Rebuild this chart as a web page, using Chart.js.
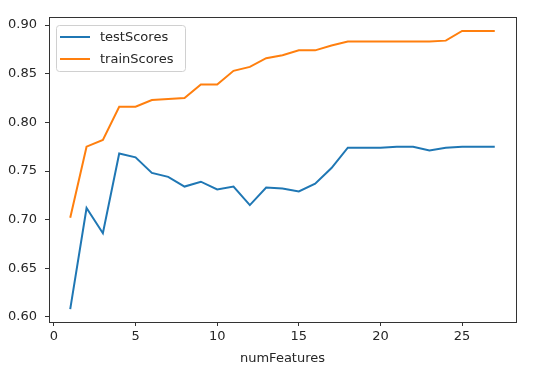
<!DOCTYPE html>
<html>
<head>
<meta charset="utf-8">
<script src="https://cdn.jsdelivr.net/npm/chart.js@4"></script>
<style>
  html, body { margin: 0; padding: 0; background: #fff; }
  #wrap { width: 547px; height: 370px; }
</style>
</head>
<body>
<div id="wrap"><canvas id="myChart" width="547" height="370"></canvas></div>
<script>
// number of features used, and scores
const numFeatures = [1, 2, 3, 4, 5, 6, 7, 8, 9, 10, 11, 12, 13, 14, 15, 16, 17, 18, 19, 20, 21, 22, 23, 24, 25, 26, 27];
const testScores = [0.608, 0.712, 0.686, 0.768, 0.764, 0.748, 0.744, 0.734, 0.739, 0.731, 0.734, 0.715, 0.733, 0.732, 0.729, 0.737, 0.753, 0.774, 0.774, 0.774, 0.775, 0.775, 0.771, 0.774, 0.775, 0.775, 0.775];
const trainScores = [0.702, 0.775, 0.782, 0.816, 0.816, 0.823, 0.824, 0.825, 0.839, 0.839, 0.853, 0.857, 0.866, 0.869, 0.874, 0.874, 0.879, 0.883, 0.883, 0.883, 0.883, 0.883, 0.883, 0.884, 0.894, 0.894, 0.894];
const xTicks = [0, 5, 10, 15, 20, 25];
const yTicks = [0.60, 0.65, 0.70, 0.75, 0.80, 0.85, 0.90];

const FONT = "'DejaVu Sans', sans-serif";
const INK = '#262626';

function toPoints(vals) {
    return vals.map((v, i) => ({ x: numFeatures[i], y: v }));
}

// box around the plot like matplotlib spines
const framePlugin = {
    id: 'frame',
    afterDraw(chart) {
        const a = chart.chartArea;
        const c = chart.ctx;
        c.save();
        c.strokeStyle = '#333';
        c.lineWidth = 1;
        c.strokeRect(Math.round(a.left) + 0.5, Math.round(a.top) + 0.5,
            Math.round(a.right - a.left), Math.round(a.bottom - a.top));
        c.restore();
    }
};

// legend drawn inside the axes, upper left
const innerLegend = {
    id: 'innerLegend',
    afterDraw(chart) {
        const c = chart.ctx;
        const a = chart.chartArea;
        const x0 = a.left + 7, y0 = a.top + 8;
        const w = 129, h = 46;
        c.save();
        c.fillStyle = 'rgba(255,255,255,0.8)';
        c.strokeStyle = '#d0d0d0';
        c.lineWidth = 1;
        c.beginPath();
        c.roundRect(x0 + 0.5, y0 + 0.5, w, h, 3);
        c.fill();
        c.stroke();
        c.font = '13px ' + FONT;
        c.textBaseline = 'middle';
        chart.data.datasets.forEach((ds, i) => {
            const yy = y0 + 12 + i * 22;
            c.strokeStyle = ds.borderColor;
            c.lineWidth = 2;
            c.beginPath();
            c.moveTo(x0 + 4, yy);
            c.lineTo(x0 + 34, yy);
            c.stroke();
            c.fillStyle = INK;
            c.fillText(ds.label, x0 + 44, yy + 1);
        });
        c.restore();
    }
};

const ctx = document.getElementById('myChart').getContext('2d');
const myChart = new Chart(ctx, {
    type: 'line',
    data: {
        datasets: [{
            label: 'testScores',
            data: toPoints(testScores),
            borderColor: '#1f77b4',
            borderWidth: 2,
            pointRadius: 0,
            fill: false,
            tension: 0
        }, {
            label: 'trainScores',
            data: toPoints(trainScores),
            borderColor: '#ff7f0e',
            borderWidth: 2,
            pointRadius: 0,
            fill: false,
            tension: 0
        }]
    },
    options: {
        responsive: false,
        animation: false,
        layout: { padding: { left: 0, right: 31, top: 17, bottom: 0 } },
        plugins: {
            legend: { display: false },
            tooltip: { enabled: false }
        },
        scales: {
            x: {
                type: 'linear',
                min: -0.3,
                max: 28.3,
                afterBuildTicks(s) { s.ticks = xTicks.map(v => ({ value: v })); },
                afterFit(s) { s.height = 48; },
                grid: { drawOnChartArea: false, drawTicks: true, tickLength: 4, color: '#333' },
                border: { display: false },
                ticks: { color: INK, font: { family: FONT, size: 13 }, padding: 3, maxRotation: 0 },
                title: { display: true, text: 'numFeatures', color: INK, font: { family: FONT, size: 13 }, padding: { top: 0, bottom: 4 } }
            },
            y: {
                min: 0.5948,
                max: 0.9083,
                afterBuildTicks(s) { s.ticks = yTicks.map(v => ({ value: v })); },
                afterFit(s) { s.width = 49; },
                grid: { drawOnChartArea: false, drawTicks: true, tickLength: 4, color: '#333' },
                border: { display: false },
                ticks: { color: INK, font: { family: FONT, size: 13 }, padding: 8, callback: v => v.toFixed(2) }
            }
        }
    },
    plugins: [framePlugin, innerLegend]
});
</script>
</body>
</html>
